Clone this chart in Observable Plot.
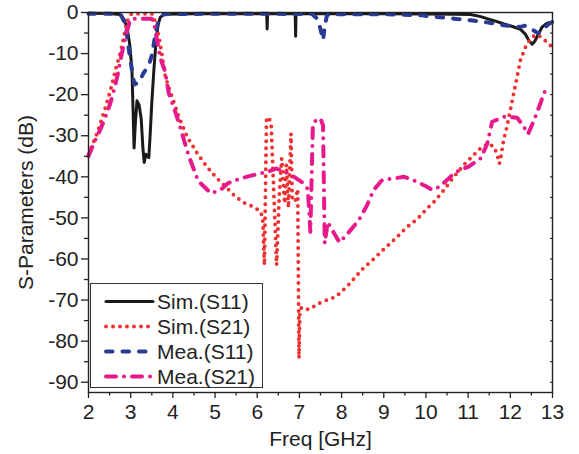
<!DOCTYPE html>
<html><head><meta charset="utf-8">
<script src="https://cdn.jsdelivr.net/npm/d3@7"></script>
<script src="https://cdn.jsdelivr.net/npm/@observablehq/plot@0.6"></script>
<style>
body{margin:0;background:#fff;}
#wrap{position:relative;width:579px;height:454px;font-family:"Liberation Sans",Arial,sans-serif;}
#legend{position:absolute;left:90px;top:283px;width:171px;height:103px;border:1px solid #333;background:#fff;}
#legend .row{position:absolute;left:0;width:171px;height:25px;}
#legend svg{position:absolute;left:12px;top:0;}
#legend span{position:absolute;left:66px;top:0;line-height:25px;font-size:21px;color:#222;white-space:nowrap;}
</style></head>
<body>
<div id="wrap"><div id="chart"></div><div id="legend"></div></div>
<script>
// ---- data (frequency GHz, dB) ----
const simS11 = [[2.0,-0.2],[2.5,-0.25],[2.75,-0.5],[2.85,-1.8],[2.92,-4],[2.98,-8],[3.03,-14],[3.06,-25],[3.08,-33],[3.11,-27],[3.15,-21.5],[3.2,-22.5],[3.25,-26],[3.29,-33],[3.32,-36.5],[3.36,-34.5],[3.39,-35],[3.43,-35.3],[3.46,-30],[3.5,-22],[3.55,-14],[3.6,-7],[3.65,-3],[3.7,-1.2],[3.8,-0.4],[4.5,-0.3],[6.225,-0.3],[6.235,-4],[6.245,-0.3],[6.9,-0.3],[6.91,-5.8],[6.92,-0.3],[9.0,-0.3],[10.0,-0.35],[10.7,-0.4],[11.06,-0.5],[11.3,-1.0],[11.45,-1.5],[11.65,-2.1],[11.85,-2.8],[12.05,-3.4],[12.24,-4.1],[12.35,-5.2],[12.45,-7],[12.52,-7.7],[12.58,-7],[12.65,-5.6],[12.75,-3.6],[12.87,-2.6],[13.0,-2.3]];

const simS21 = [[2.0,-34.5],[2.1,-32],[2.2,-29.5],[2.36,-24.5],[2.52,-19],[2.64,-14],[2.76,-9.5],[2.84,-5.8],[2.9,-2.8],[2.96,-1],[3.02,-0.3],[3.5,-0.3],[3.55,-1],[3.59,-2.7],[3.67,-5.9],[3.75,-10.8],[3.82,-15.5],[3.9,-18.2],[3.98,-20.5],[4.14,-25.4],[4.34,-30.3],[4.58,-34.3],[4.81,-37.6],[5.05,-40.4],[5.29,-42.8],[5.49,-44.9],[5.72,-46.5],[5.92,-47.3],[6.08,-48.5],[6.13,-50],[6.17,-61.5],[6.22,-25.8],[6.27,-25.5],[6.33,-27],[6.46,-61.5],[6.52,-45],[6.58,-35.5],[6.65,-46.5],[6.69,-37],[6.74,-47.5],[6.8,-29.5],[6.83,-45.5],[6.9,-46],[6.96,-43],[6.99,-84.2],[7.01,-73],[7.05,-71.8],[7.22,-72.3],[7.54,-70.4],[7.86,-69.2],[8.13,-66.7],[8.49,-62.5],[8.76,-60],[9.0,-57.6],[9.28,-55],[9.52,-52.5],[9.79,-50.3],[10.0,-48],[10.19,-46.1],[10.42,-43.3],[10.66,-40],[10.9,-37.1],[11.09,-35.1],[11.33,-32.7],[11.49,-31.9],[11.62,-32.8],[11.7,-35],[11.74,-36.8],[11.78,-35],[11.84,-31.1],[11.92,-27.8],[12.0,-23.8],[12.08,-19.7],[12.16,-15.7],[12.24,-11.6],[12.36,-8.4],[12.48,-6.3],[12.6,-5.4],[12.7,-5.8],[12.8,-6.6],[12.95,-8],[13.0,-8.5]];

const meaS11 = [[2.0,-0.3],[2.7,-0.3],[2.78,-0.8],[2.88,-3],[2.95,-8.5],[3.03,-14],[3.09,-17.5],[3.2,-17],[3.3,-14.8],[3.43,-12.8],[3.5,-10.5],[3.55,-7.5],[3.6,-4.5],[3.65,-2.3],[3.72,-0.9],[3.8,-0.4],[5.0,-0.3],[7.3,-0.35],[7.42,-1.5],[7.5,-4],[7.56,-6.7],[7.6,-3.5],[7.65,-0.8],[7.7,-0.4],[9.0,-0.4],[9.9,-0.7],[10.66,-1.5],[11.06,-1.9],[11.45,-2.4],[11.85,-3.1],[12.24,-3.5],[12.36,-3.2],[12.48,-3.8],[12.56,-4.4],[12.66,-5.1],[12.75,-4.5],[12.83,-3.5],[12.92,-2.7],[13.0,-2.3]];

const meaS21 = [[2.0,-35],[2.14,-31.5],[2.28,-28.5],[2.4,-25.5],[2.52,-22],[2.6,-19],[2.68,-15.7],[2.76,-11.5],[2.84,-7.5],[2.92,-4.3],[2.98,-2],[3.03,-1.5],[3.5,-1.5],[3.56,-3],[3.63,-7],[3.7,-11],[3.82,-14.5],[3.9,-19.5],[4.1,-25.5],[4.38,-35],[4.6,-41],[4.9,-44],[5.13,-43.2],[5.3,-41.6],[5.6,-40.4],[5.9,-39.6],[6.24,-38.8],[6.45,-38],[6.63,-38.6],[6.8,-39.5],[7.1,-41.6],[7.2,-43],[7.26,-53.4],[7.32,-27],[7.38,-26.4],[7.5,-25.8],[7.56,-27.5],[7.6,-56.2],[7.67,-51],[7.95,-56],[8.13,-54],[8.41,-50.5],[8.6,-47],[8.76,-43.2],[8.96,-40.8],[9.24,-40.4],[9.48,-40],[9.79,-41.2],[10.0,-42.3],[10.15,-43.2],[10.34,-42.3],[10.62,-39.6],[10.8,-38.3],[11.0,-37.6],[11.3,-35.5],[11.45,-32],[11.57,-26.6],[11.85,-25.4],[12.16,-25.6],[12.3,-27.5],[12.42,-29.6],[12.55,-26.5],[12.7,-22.5],[12.85,-18.3]];

const seriesLabels = ["Sim.(S11)","Sim.(S21)","Mea.(S11)","Mea.(S21)"];
const xTicks = [2,3,4,5,6,7,8,9,10,11,12,13];
const xMinorTicks = [2.5,3.5,4.5,5.5,6.5,7.5,8.5,9.5,10.5,11.5,12.5];
const yTicks = [-90,-80,-70,-60,-50,-40,-30,-20,-10,0];
const yMinorTicks = [-85,-75,-65,-55,-45,-35,-25,-15,-5];
const yRightTicks = [-90,-85,-80,-75,-70,-65,-60,-55,-50,-45,-40,-35,-30,-25,-20,-15,-10,-5];

// ---- styles ----
const styles = [
  {stroke:"#1a1a1a", strokeWidth:3, strokeDasharray:null},
  {stroke:"#ee3030", strokeWidth:3.9, strokeDasharray:"0 7"},
  {stroke:"#2b3a92", strokeWidth:4, strokeDasharray:"6.5 10"},
  {stroke:"#e8198b", strokeWidth:4, strokeDasharray:"10 8 0 8"}
];
const seriesData = [simS11, simS21, meaS11, meaS21];

const fx = d => d[0], fy = d => d[1];
const lines = seriesData.map((data, i) => Plot.line(data, {
  x: fx, y: fy, stroke: styles[i].stroke, strokeWidth: styles[i].strokeWidth,
  strokeDasharray: styles[i].strokeDasharray ?? undefined,
  strokeLinecap: "round", strokeLinejoin: "round"
}));

const chart = Plot.plot({
  width: 579, height: 454,
  marginLeft: 88, marginRight: 27, marginTop: 12, marginBottom: 62,
  style: {fontFamily: '"Liberation Sans", Arial, sans-serif', fontSize: "21px", color: "#222", background: "#fff"},
  x: {domain: [2, 13]},
  y: {domain: [-92.5, 0]},
  marks: [
    ...lines,
    Plot.axisY(yTicks, {anchor: "left", tickSize: 7, tickPadding: 3, strokeWidth: 1.3, tickFormat: d => String(d),
      label: "S-Parameters (dB)", labelAnchor: "center", labelOffset: 70, labelArrow: "none"}),
    Plot.axisY(yMinorTicks, {anchor: "left", tickSize: 4, strokeWidth: 1.3, tickFormat: () => "", label: null}),
    Plot.axisY(yRightTicks, {anchor: "right", tickSize: 3, insetRight: 3, strokeWidth: 1.1, tickFormat: () => "", label: null}),
    Plot.axisX(xTicks, {anchor: "bottom", tickSize: 6, tickPadding: 6, strokeWidth: 1.3, tickFormat: d => String(d),
      label: "Freq [GHz]", labelAnchor: "center", labelOffset: 53, labelArrow: "none"}),
    Plot.axisX(xMinorTicks, {anchor: "bottom", tickSize: 3.5, strokeWidth: 1.3, tickFormat: () => "", label: null}),
    Plot.frame({stroke: "#222", strokeWidth: 1.4})
  ]
});
document.getElementById("chart").appendChild(chart);

// ---- legend ----
const legend = document.getElementById("legend");
seriesLabels.forEach((name, i) => {
  const row = document.createElement("div");
  row.className = "row";
  row.style.top = (4.5 + i * 25) + "px";
  const s = styles[i];
  row.innerHTML = `<svg width="52" height="25"><line x1="3" x2="50" y1="12.5" y2="12.5" stroke="${s.stroke}" stroke-width="${s.strokeWidth}" stroke-linecap="round" ${s.strokeDasharray ? `stroke-dasharray="${s.strokeDasharray}"` : ""}/></svg><span>${name}</span>`;
  legend.appendChild(row);
});
</script>
</body></html>
